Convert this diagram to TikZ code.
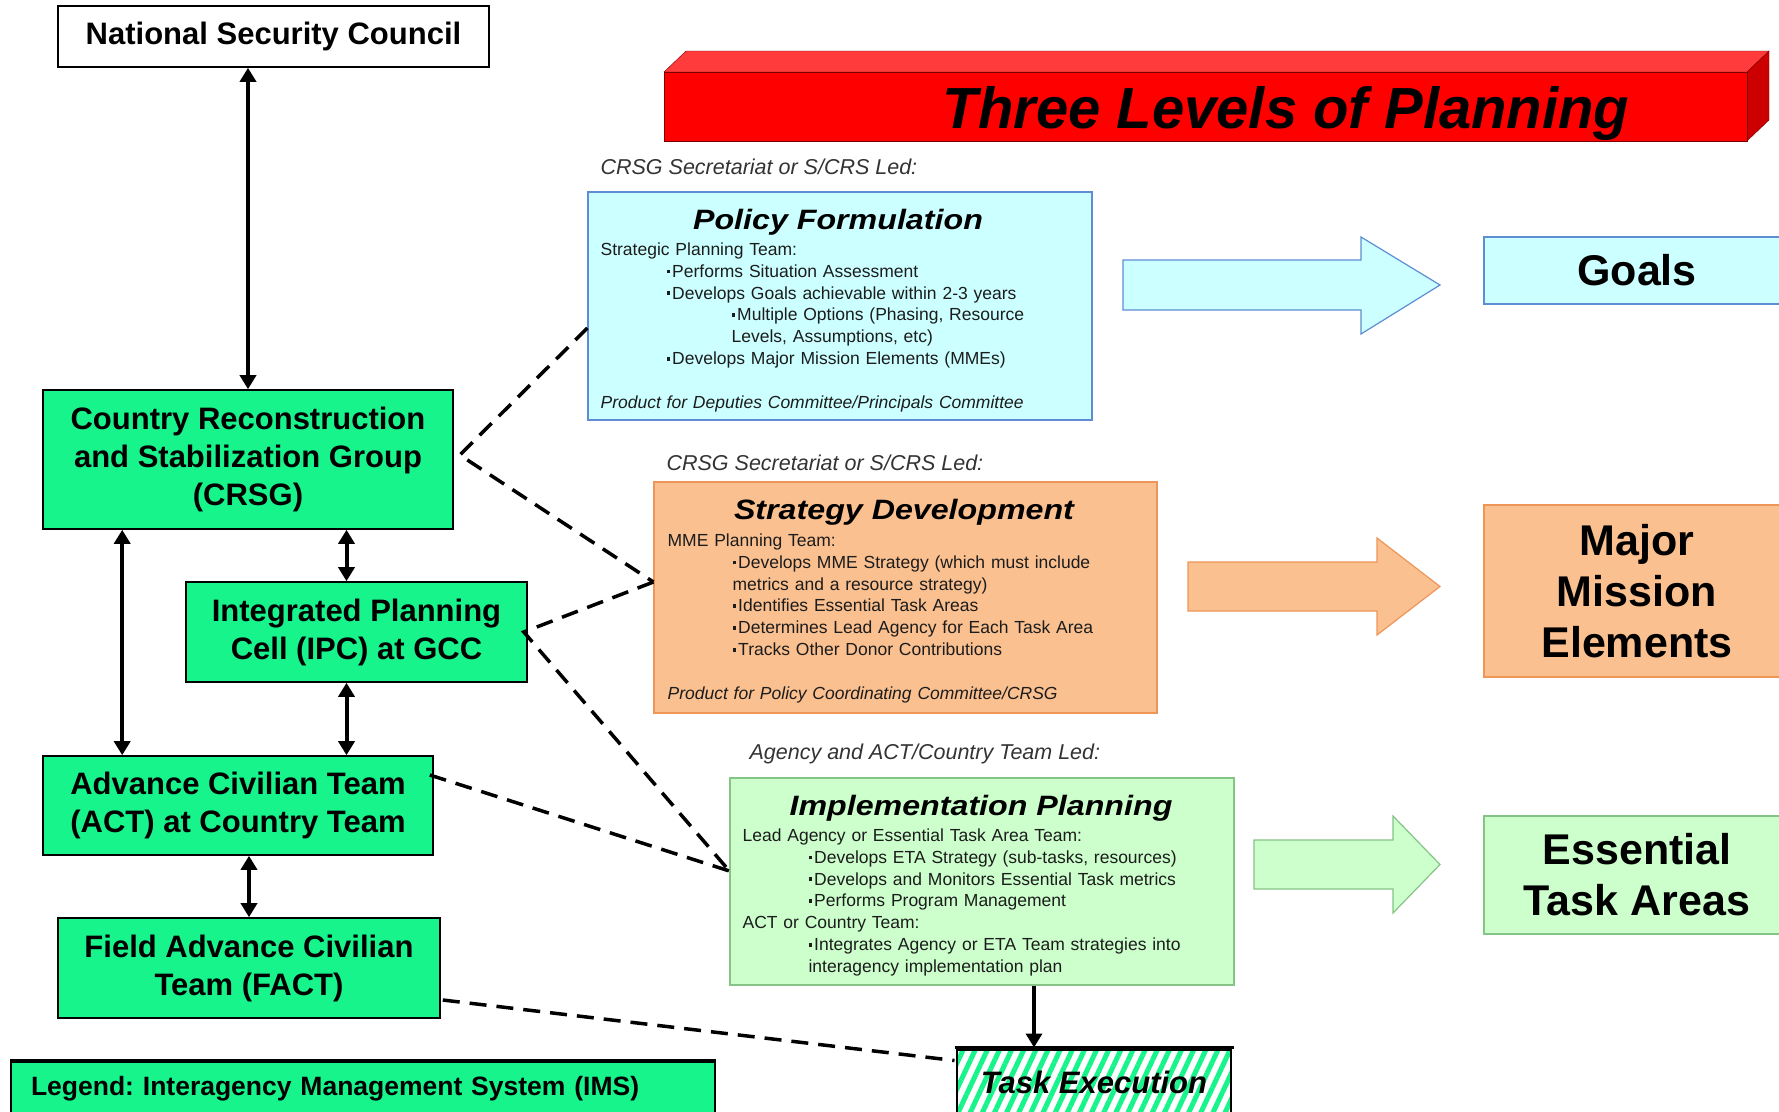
\documentclass[tikz,border=0pt]{standalone}
\usepackage{fontspec}
\setmainfont{Liberation Sans}
\newfontfamily\heavyfont{Liberation Sans}[FakeStretch=1.15]
\usetikzlibrary{arrows.meta,calc,patterns.meta}
\frenchspacing

\definecolor{imsgreen}{HTML}{17F48B}
\definecolor{polfill}{HTML}{CCFFFF}
\definecolor{polline}{HTML}{5F8DD3}
\definecolor{strfill}{HTML}{FAC090}
\definecolor{strline}{HTML}{EE9658}
\definecolor{impfill}{HTML}{CCFFCC}
\definecolor{impline}{HTML}{86C386}
\definecolor{barfront}{HTML}{FF0000}
\definecolor{bartop}{HTML}{FF3B3B}
\definecolor{barside}{HTML}{CC0000}
\definecolor{barline}{HTML}{7A0000}
\definecolor{ledgray}{HTML}{333333}
\definecolor{bodytext}{HTML}{1C1C1C}

\newcommand{\sqbul}{\rule[0.22em]{0.22em}{0.22em}\hspace{0.1em}}

\begin{document}
\begin{tikzpicture}[x=1pt,y=-1pt,
  ims/.style={draw=black, line width=1.6pt, fill=imsgreen, align=center, inner sep=0pt,
    font=\bfseries\fontsize{31}{38}\selectfont},
  level/.style={draw=#1line, fill=#1fill, line width=1.2pt, inner sep=0pt},
  result/.style={level=#1, align=center, font=\bfseries\fontsize{43}{51}\selectfont},
  ttl/.style={anchor=base, inner sep=0pt, font=\heavyfont\bfseries\itshape\fontsize{28}{32}\selectfont},
  led/.style={anchor=base west, inner sep=0pt, text=ledgray, font=\itshape\fontsize{21.5}{26}\selectfont},
  body/.style={anchor=base west, inner sep=0pt, text width=520, align=left, text=bodytext,
    font=\fontsize{17.5}{21.8}\selectfont},
  dbl/.style={{Triangle[length=14pt,width=16pt]}-{Triangle[length=14pt,width=16pt]}, line width=4pt},
  arr/.style={-{Triangle[length=14pt,width=16pt]}, line width=4pt},
  dashline/.style={line width=3.5pt, dash pattern=on 17pt off 10pt},
  ]
  \useasboundingbox (0,0) rectangle (1779,1111);

  % title bar
  \filldraw[fill=bartop, draw=barline] (664,72) -- (686,51) -- (1769,51) -- (1747,72) -- cycle;
  \filldraw[fill=barside, draw=barline] (1747,72) -- (1769,51) -- (1769,120) -- (1747,141) -- cycle;
  \node[draw=barline, fill=barfront, minimum width=1083, minimum height=69, inner sep=0pt] (bar) at (1205.5,106.5) {};
  \node[anchor=base, inner sep=0pt, font=\bfseries\itshape\fontsize{58}{64}\selectfont] (bartitle) at (1286,128) {Three Levels of Planning};

  % interagency management system
  \node[ims, fill=white, minimum width=431, minimum height=61] (nsc) at (273.5,36.5) {National Security Council};
  \node[ims, minimum width=410, minimum height=139] (crsg) at (248,459.5) {Country Reconstruction\\and Stabilization Group\\(CRSG)};
  \node[ims, minimum width=341, minimum height=100] (ipc) at (356.5,632) {Integrated Planning\\Cell (IPC) at GCC};
  \node[ims, minimum width=390, minimum height=99] (act) at (238,805.5) {Advance Civilian Team\\(ACT) at Country Team};
  \node[ims, minimum width=382, minimum height=100] (fact) at (249,968) {Field Advance Civilian\\Team (FACT)};
  \node[ims, align=left, text width=664, inner xsep=20pt, minimum height=54, font=\bfseries\fontsize{26.5}{30}\selectfont] (legend) at (363,1089) {Legend: Interagency Management System (IMS)};
  \draw[line width=3.5pt] (legend.north west) -- (legend.north east);

  \draw[dbl] (crsg.north) -- (crsg.north |- nsc.south);
  \draw[dbl] ([xshift=80]act.north west) -- ([xshift=80]act.north west |- crsg.south);
  \draw[dbl] ([xshift=-10]ipc.north) -- ([xshift=-10]ipc.north |- crsg.south);
  \draw[dbl] ([xshift=-10]ipc.south) -- ([xshift=-10]ipc.south |- act.north);
  \draw[dbl] (fact.north) -- (fact.north |- act.south);

  % planning levels
  \node[level=pol, minimum width=504, minimum height=228] (pol) at (840,306) {};
  \node[level=str, minimum width=503, minimum height=231] (str) at (905.5,597.5) {};
  \node[level=imp, minimum width=504, minimum height=207] (imp) at (982,881.5) {};

  \node[led] (polled) at ($(pol.north west)+(13,-17)$) {CRSG Secretariat or S/CRS Led:};
  \node[led] (strled) at ($(str.north west)+(13,-11)$) {CRSG Secretariat or S/CRS Led:};
  \node[led] (impled) at ($(imp.north west)+(20,-18)$) {Agency and ACT/Country Team Led:};

  \node[ttl] (poltitle) at ($(pol.north)+(-2,38)$) {Policy Formulation};
  \node[ttl] (strtitle) at ($(str.north)+(-1.5,38)$) {Strategy Development};
  \node[ttl] (imptitle) at ($(imp.north)+(-1,38)$) {Implementation Planning};

  \node[body] (polbody) at ($(pol.north west)+(13,64)$) {Strategic Planning Team:\\
    \hspace*{66pt}\sqbul Performs Situation Assessment\\
    \hspace*{66pt}\sqbul Develops Goals achievable within 2-3 years\\
    \hspace*{131pt}\sqbul Multiple Options (Phasing, Resource\\
    \hspace*{131pt}Levels, Assumptions, etc)\\
    \hspace*{66pt}\sqbul Develops Major Mission Elements (MMEs)\\[21.8pt]
    \textit{Product for Deputies Committee/Principals Committee}};
  \node[body] (strbody) at ($(str.north west)+(14,65)$) {MME Planning Team:\\
    \hspace*{65pt}\sqbul Develops MME Strategy (which must include\\
    \hspace*{65pt}metrics and a resource strategy)\\
    \hspace*{65pt}\sqbul Identifies Essential Task Areas\\
    \hspace*{65pt}\sqbul Determines Lead Agency for Each Task Area\\
    \hspace*{65pt}\sqbul Tracks Other Donor Contributions\\[21.8pt]
    \textit{Product for Policy Coordinating Committee/CRSG}};
  \node[body] (impbody) at ($(imp.north west)+(13,64)$) {Lead Agency or Essential Task Area Team:\\
    \hspace*{66pt}\sqbul Develops ETA Strategy (sub-tasks, resources)\\
    \hspace*{66pt}\sqbul Develops and Monitors Essential Task metrics\\
    \hspace*{66pt}\sqbul Performs Program Management\\
    ACT or Country Team:\\
    \hspace*{66pt}\sqbul Integrates Agency or ETA Team strategies into\\
    \hspace*{66pt}interagency implementation plan};

  % results
  \filldraw[draw=polline, fill=polfill, line width=1.2pt] (1123,260) -- (1361,260) -- (1361,237) -- (1440,285) -- (1361,334) -- (1361,310) -- (1123,310) -- cycle;
  \filldraw[draw=strline, fill=strfill, line width=1.2pt] (1188,562) -- (1377,562) -- (1377,538) -- (1440,586.5) -- (1377,635) -- (1377,611) -- (1188,611) -- cycle;
  \filldraw[draw=impline, fill=impfill, line width=1.2pt] (1254,840) -- (1393,840) -- (1393,816) -- (1440,864.5) -- (1393,913) -- (1393,889) -- (1254,889) -- cycle;

  \node[result=pol, minimum width=306, minimum height=67] (goals) at (1637,270.5) {Goals};
  \node[result=str, minimum width=306, minimum height=172] (mme) at (1637,591) {Major\\Mission\\Elements};
  \node[result=imp, minimum width=306, minimum height=118] (eta) at (1637,875) {Essential\\Task Areas};

  % execution
  \node[draw=black, line width=1.2pt, pattern={Lines[angle=65,distance=11pt,line width=5pt]}, pattern color=imsgreen,
    minimum width=274, minimum height=64, inner sep=0pt,
    font=\bfseries\itshape\fontsize{31}{36}\selectfont] (task) at (1094,1082) {Task Execution};
  \draw[line width=3.5pt] (task.north west) -- (task.north east);
  \draw[arr] ([xshift=52]imp.south) -- ([xshift=52]imp.south |- task.north);

  % links to the levels
  \draw[dashline] ([yshift=-22]pol.west) -- ([xshift=6,yshift=4.5]crsg.east) -- ([yshift=15.5]str.west);
  \draw[dashline] ([yshift=15.5]str.west) -- ([xshift=-4]ipc.east) -- ([yshift=10.5]imp.west);
  \draw[dashline] ([xshift=-4,yshift=30.5]act.east) -- ([yshift=10.5]imp.west);
  \draw[dashline] ([xshift=2,yshift=-32]fact.east) -- ([yshift=-13]task.north west);
\end{tikzpicture}
\end{document}
